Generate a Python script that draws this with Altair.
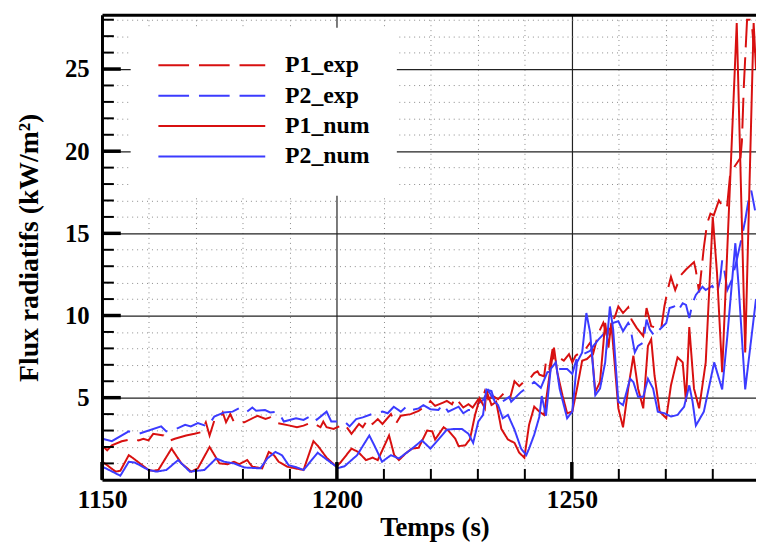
import altair as alt
import pandas as pd

series_names = ["P1_exp", "P2_exp", "P1_num", "P2_num"]
series_colors = ["#d81010", "#3b3bff", "#d81010", "#3b3bff"]

P1_exp_t = [1150.0,1151.1,1152.1,1154.2,1156.7,1157.8,1158.8,1159.9,1160.9,1163.1,
            1164.1,1165.5,1167.9,1169.7,1171.1,1172.1,1172.9,1173.9,1175.0,1175.7,
            1176.4,1177.3,1178.1,1180.3,1183.1,1184.8,1185.8,1186.6,1190.0,1191.5,
            1192.9,1194.6,1196.5,1197.1,1197.8,1199.3,1201.6,1203.1,1204.7,1205.5,
            1206.6,1207.6,1208.7,1209.7,1211.5,1212.5,1213.6,1215.7,1217.4,1218.4,
            1219.2,1219.9,1220.9,1222.6,1223.4,1224.5,1225.2,1226.9,1228.0,1228.9,
            1230.1,1230.8,1231.5,1232.2,1233.2,1234.3,1235.3,1236.7,1237.8,1238.8,
            1239.9,1240.9,1242.0,1242.7,1243.1,1244.1,1244.5,1245.2,1245.9,1246.2,
            1247.3,1248.3,1249.4,1250.1,1250.8,1251.8,1252.9,1253.9,1254.6,1255.7,
            1256.7,1257.5,1258.1,1259.2,1259.9,1260.9,1262.0,1262.7,1263.8,1265.2,
            1265.9,1266.9,1269.0,1269.7,1270.4,1271.1,1272.0,1273.2,1274.3,1276.0,
            1276.4,1277.1,1278.1,1278.8,1279.5,1280.2,1281.3,1282.0,1283.0,1283.7,
            1284.5,1285.9,1286.2,1286.6,1287.3,1287.9,1288.3,1288.7,1289.0]
P1_exp_v = [2.1,1.8,2.1,2.35,2.5,2.4,2.5,2.4,2.8,2.7,
            2.35,2.5,2.7,2.8,2.9,3.5,2.7,3.6,3.7,4.1,
            3.5,4.0,3.5,3.5,3.9,3.7,3.8,3.5,3.3,3.2,
            3.3,3.5,3.2,3.55,3.2,3.1,3.4,2.8,3.4,3.2,
            3.7,3.4,3.7,3.4,4.0,3.4,3.9,4.0,4.2,4.4,
            4.5,4.8,4.5,4.7,4.8,4.6,5.0,4.4,4.6,4.4,
            4.9,4.8,5.4,4.9,5.1,4.9,5.2,4.8,6.0,5.7,
            6.0,6.1,6.5,6.6,6.4,6.3,7.2,6.75,7.95,7.25,
            7.45,7.25,7.65,7.15,7.55,7.75,7.95,8.35,7.75,8.95,
            9.55,8.75,9.35,9.95,10.55,10.15,10.5,9.75,9.25,8.75,
            10.45,9.35,9.15,10.55,11.55,12.35,11.55,12.45,12.8,13.25,
            12.75,11.4,14.15,15.6,16.2,16.1,17.0,16.7,16.5,18.6,
            19.0,19.6,20.6,23.9,28.0,28.0,27.8,26.4,26.0]

P2_exp_t = [1150.1,1152.1,1155.7,1157.8,1162.6,1163.7,1165.8,1167.7,1168.9,1170.4,
            1172.5,1173.9,1176.0,1177.8,1179.5,1180.9,1182.0,1182.8,1184.7,1185.8,
            1187.3,1187.9,1188.7,1191.3,1192.9,1194.2,1195.0,1195.7,1197.8,1198.8,
            1199.7,1201.6,1202.7,1204.1,1205.5,1207.9,1209.7,1210.8,1212.1,1213.6,
            1215.0,1216.0,1217.4,1218.4,1219.9,1221.6,1222.6,1223.7,1225.9,1226.9,
            1228.0,1229.0,1230.1,1231.1,1232.2,1233.2,1234.3,1235.7,1236.7,1237.1,
            1239.2,1240.6,1242.0,1243.4,1244.8,1246.2,1247.6,1249.0,1250.1,1251.1,
            1252.5,1253.9,1254.6,1255.7,1256.7,1258.8,1259.9,1260.9,1262.0,1262.4,
            1263.4,1264.1,1265.2,1265.9,1266.6,1267.6,1268.7,1270.1,1270.8,1271.8,
            1272.5,1273.6,1274.3,1275.0,1275.7,1276.4,1277.8,1278.5,1279.9,1280.9,
            1281.6,1282.0,1282.4,1283.1,1284.1,1285.2,1286.2,1286.9,1287.6,1288.2,
            1289.0]
P2_exp_v = [2.5,2.35,2.95,2.8,3.25,2.95,3.1,3.35,3.25,3.45,
            3.25,3.85,4.1,4.15,4.4,4.15,4.4,4.2,4.25,4.1,
            4.15,3.95,3.55,3.75,3.65,3.85,3.95,3.65,4.15,3.55,
            3.55,3.55,3.25,3.7,3.8,4.05,4.15,4.05,4.45,4.15,
            4.5,4.25,4.35,4.55,4.3,4.25,4.6,4.15,4.45,4.05,
            4.25,4.25,4.65,4.85,5.45,4.95,4.65,4.85,5.05,4.75,
            5.35,5.65,5.95,5.6,6.55,6.65,6.75,6.75,6.45,7.45,
            7.65,7.85,8.15,8.55,8.85,9.55,9.65,9.05,9.55,9.35,
            7.75,8.15,8.35,9.75,9.15,8.75,9.15,9.55,10.45,10.55,
            10.25,10.75,10.65,9.85,10.75,11.25,11.75,11.55,11.8,11.35,
            12.25,13.35,12.85,11.55,12.2,13.5,14.8,15.8,17.0,17.6,
            16.4]

P1_num_t = [1150.1,1152.9,1153.9,1155.7,1156.7,1159.9,1160.9,1162.0,1164.8,1166.9,
            1169.0,1170.4,1172.9,1175.0,1176.7,1178.1,1179.2,1180.9,1182.0,1184.1,
            1185.5,1186.6,1187.6,1189.4,1191.1,1192.9,1195.0,1196.0,1197.8,1199.9,
            1200.9,1203.1,1204.5,1206.2,1207.6,1208.7,1211.1,1212.2,1213.2,1214.6,
            1216.0,1217.4,1219.2,1220.3,1220.9,1222.7,1223.7,1225.2,1225.9,1227.3,
            1228.3,1229.4,1230.4,1231.5,1231.8,1232.9,1233.9,1235.0,1236.4,1237.8,
            1238.8,1239.9,1240.9,1242.0,1243.1,1244.1,1245.2,1246.2,1246.9,1248.0,
            1249.0,1250.1,1251.1,1252.2,1253.2,1254.3,1255.0,1256.0,1257.1,1257.8,
            1258.4,1259.9,1260.9,1262.0,1263.1,1264.1,1265.2,1266.2,1266.9,1267.6,
            1268.7,1270.1,1271.1,1272.5,1273.6,1274.3,1275.0,1276.0,1277.1,1278.5,
            1280.0,1280.9,1282.0,1285.1,1286.9,1288.7,1289.2]
P1_num_v = [1.1,0.5,0.55,1.5,1.3,0.6,0.55,0.6,1.9,1.0,
            0.5,0.7,2.0,1.0,0.95,1.1,0.95,1.2,0.8,0.7,
            1.7,1.5,1.1,0.8,0.7,0.6,2.35,2.05,1.35,0.8,
            1.1,1.9,1.7,1.2,1.35,1.2,2.7,1.5,1.2,1.6,
            1.9,1.95,3.0,2.95,2.45,3.2,3.0,2.5,2.05,2.1,
            2.45,3.95,4.95,4.35,5.45,4.55,4.75,3.1,2.45,2.25,
            1.65,1.35,3.35,4.45,4.15,3.95,6.25,8.05,6.55,5.15,
            4.05,4.15,5.55,7.25,7.35,7.65,5.35,5.95,9.55,8.05,
            9.55,4.35,3.2,5.55,7.55,5.55,4.35,8.15,8.55,6.35,
            4.15,3.75,5.75,7.45,7.15,4.75,9.3,5.55,4.35,7.15,
            16.0,12.6,6.55,27.8,7.75,27.8,25.0]

P2_num_t = [1150.1,1152.2,1153.9,1155.7,1157.0,1159.9,1161.6,1163.7,1166.2,1168.7,
            1171.8,1174.3,1176.0,1178.1,1180.3,1183.7,1185.2,1186.9,1188.3,1189.7,
            1191.5,1192.9,1195.9,1198.0,1200.3,1201.6,1204.3,1206.9,1208.3,1209.6,
            1211.5,1213.2,1216.0,1218.1,1219.9,1221.6,1223.4,1225.2,1226.6,1228.0,
            1229.0,1230.1,1231.1,1231.8,1232.9,1233.6,1234.3,1235.3,1236.4,1237.8,
            1239.2,1240.3,1240.9,1242.0,1243.1,1243.6,1244.5,1245.5,1246.6,1247.4,
            1249.0,1250.1,1251.1,1252.2,1253.1,1253.9,1255.0,1256.0,1257.1,1258.1,
            1258.8,1259.9,1260.9,1262.4,1263.1,1264.1,1265.2,1266.2,1267.3,1268.3,
            1269.7,1271.1,1272.5,1273.9,1275.0,1275.7,1276.4,1278.1,1280.3,1282.0,
            1283.1,1284.8,1285.5,1286.9,1289.2]
P2_num_v = [0.8,0.5,0.25,1.1,1.05,0.6,0.5,0.6,1.2,0.5,
            0.6,1.3,1.1,1.0,0.75,0.7,1.3,1.7,1.5,0.9,
            0.75,0.6,1.65,1.2,0.72,0.82,1.5,2.7,1.9,1.1,
            1.5,1.3,1.9,2.4,1.9,2.45,3.05,3.1,3.1,2.8,
            2.25,3.55,3.95,5.5,5.4,4.75,4.55,3.75,3.95,3.05,
            1.9,1.5,1.9,2.75,3.85,5.1,3.9,6.75,7.15,5.55,
            3.75,4.15,7.15,7.75,10.15,8.95,5.15,5.55,7.15,10.55,
            9.15,4.75,4.55,6.15,5.95,5.05,5.05,6.15,5.55,4.15,
            4.05,3.85,3.95,4.45,5.75,4.75,3.3,4.15,7.15,5.5,
            8.75,14.4,11.8,5.5,11.0]

x_label_values = [1150, 1200, 1250]
x_minor_values = [1160, 1170, 1180, 1190, 1210, 1220, 1230, 1240, 1260, 1270, 1280]
x_tick_minor = [1150, 1160, 1170, 1180, 1190, 1200, 1210, 1220, 1230, 1240, 1250, 1260, 1270, 1280]
y_label_values = [5, 10, 15, 20, 25]
y_minor_values = [v for v in range(1, 29) if v % 5 != 0]
y_tick_minor = list(range(1, 29))

rows = []
for name, ts, vs in [("P1_exp", P1_exp_t, P1_exp_v), ("P2_exp", P2_exp_t, P2_exp_v),
                     ("P1_num", P1_num_t, P1_num_v), ("P2_num", P2_num_t, P2_num_v)]:
    for t, v in zip(ts, vs):
        rows.append({"t": t, "v": v, "series": name})
df = pd.DataFrame(rows)

PLOT_W, PLOT_H = 661, 470
FONT = "Liberation Serif"
xscale = alt.Scale(domain=[1150, 1289.2], nice=False, zero=False)
yscale = alt.Scale(domain=[0, 28.3], nice=False, zero=False)

legend = alt.Legend(title=None, orient="none", legendX=29, legendY=13, fillColor="white",
                    padding=27, symbolType="stroke", symbolSize=11664, symbolStrokeWidth=2,
                    clipHeight=22, rowPadding=6.7, labelOffset=19, labelFont=FONT,
                    labelFontSize=24, labelFontWeight="bold", labelColor="black")

lines = alt.Chart(df).mark_line(strokeWidth=2, clip=True).encode(
    x=alt.X("t:Q", scale=xscale, axis=alt.Axis(
        orient="bottom", values=x_label_values, format="d", grid=False, ticks=False, tickSize=0,
        domain=True, domainWidth=3, domainColor="black", labelFont=FONT, labelFontSize=26,
        labelFontWeight="bold", labelColor="black", labelPadding=7, labelFlush=False,
        labelOverlap=False, title="Temps (s)", titleFont=FONT, titleFontSize=27,
        titleFontWeight="bold", titleColor="black", titleX=336, titleY=56,
        titleBaseline="alphabetic", titleAlign="center", zindex=1)),
    y=alt.Y("v:Q", scale=yscale, axis=alt.Axis(
        orient="left", values=y_label_values, format="d", grid=False, ticks=False, tickSize=0,
        domain=True, domainWidth=3, domainColor="black", labelFont=FONT, labelFontSize=25,
        labelFontWeight="bold", labelColor="black", labelPadding=13, labelOverlap=False,
        title="Flux radiatifs (kW/m²)", titleFont=FONT, titleFontSize=28,
        titleFontWeight="bold", titleColor="black", titleX=-73, titleY=235, titleAngle=270,
        titleAlign="center", titleBaseline="middle", zindex=1)),
    color=alt.Color("series:N", scale=alt.Scale(domain=series_names, range=series_colors),
                    legend=legend),
    strokeDash=alt.StrokeDash("series:N", scale=alt.Scale(
        domain=series_names, range=[[31, 10], [31, 10], [1, 0], [1, 0]]), legend=legend),
)

def dummy(xaxis, yaxis):
    return alt.Chart(df).mark_point(opacity=0).encode(
        x=alt.X("t:Q", scale=xscale, title=None, axis=xaxis),
        y=alt.Y("v:Q", scale=yscale, title=None, axis=yaxis),
    )

minor_grid = dummy(
    alt.Axis(orient="bottom", values=x_minor_values, grid=True, gridColor="#8a8a8a",
             gridDash=[1, 4], gridWidth=1, ticks=False, labels=False, domain=False),
    alt.Axis(orient="left", values=y_minor_values, grid=True, gridColor="#8a8a8a",
             gridDash=[1, 4], gridWidth=1, ticks=False, labels=False, domain=False))
major_grid = dummy(
    alt.Axis(orient="bottom", values=[1200, 1250], grid=True, gridColor="#222222",
             gridWidth=1.2, ticks=False, labels=False, domain=False),
    alt.Axis(orient="left", values=y_label_values, grid=True, gridColor="#222222",
             gridWidth=1.2, ticks=False, labels=False, domain=False))
top_border = alt.Chart(df).mark_point(opacity=0).encode(
    x=alt.X("t:Q", scale=xscale, title=None, axis=alt.Axis(
        orient="top", grid=False, ticks=False, labels=False, domain=True,
        domainWidth=3, domainColor="black", zindex=1)),
    y=alt.Y("v:Q", scale=yscale, title=None, axis=None),
)

# inward tick marks along the bottom and left edges
xminor_df = pd.DataFrame({"t": x_tick_minor})
xmajor_df = pd.DataFrame({"t": x_label_values})
yminor_df = pd.DataFrame({"v": y_tick_minor})
ymajor_df = pd.DataFrame({"v": y_label_values})

xminor_ticks = alt.Chart(xminor_df).mark_rule(color="black", strokeWidth=2).encode(
    x=alt.X("t:Q", scale=xscale, axis=None),
    y=alt.value(PLOT_H - 11), y2=alt.value(PLOT_H))
xmajor_ticks = alt.Chart(xmajor_df).mark_rule(color="black", strokeWidth=3.5).encode(
    x=alt.X("t:Q", scale=xscale, axis=None),
    y=alt.value(PLOT_H - 18), y2=alt.value(PLOT_H))
yminor_ticks = alt.Chart(yminor_df).mark_rule(color="black", strokeWidth=2).encode(
    y=alt.Y("v:Q", scale=yscale, axis=None),
    x=alt.value(0), x2=alt.value(12))
ymajor_ticks = alt.Chart(ymajor_df).mark_rule(color="black", strokeWidth=3.5).encode(
    y=alt.Y("v:Q", scale=yscale, axis=None),
    x=alt.value(0), x2=alt.value(19))

chart = alt.layer(minor_grid, major_grid, top_border, lines, xminor_ticks, xmajor_ticks,
                  yminor_ticks, ymajor_ticks).resolve_axis(
    x="independent", y="independent"
).properties(
    width=PLOT_W, height=PLOT_H,
    autosize=alt.AutoSizeParams(type="none"),
    padding={"left": 95, "top": 4, "right": 0, "bottom": 64},
    background="white",
).configure_view(strokeWidth=0)

chart.save("out.html", embed_options={"renderer": "svg", "actions": False})
